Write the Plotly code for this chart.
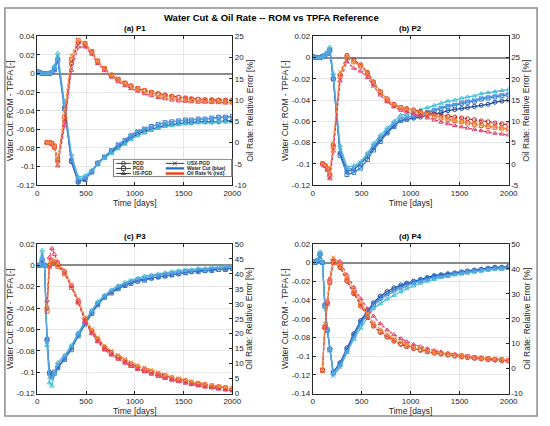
import plotly.graph_objects as go

# ---------------- data ----------------
METHODS = ["POD", "PGD", "US-PGD", "USX-PGD"]
PANEL_TITLES = ["(a) P1", "(b) P2", "(c) P3", "(d) P4"]

TIME_WC = [0, 25, 50, 75, 100, 125, 150, 175, 210, 280, 350, 420, 490, 560, 620, 690,
           760, 830, 900, 960, 1030, 1100, 1170, 1240, 1310, 1380, 1450, 1520, 1580,
           1650, 1720, 1790, 1860, 1930, 2000]
TIME_OIL = [100, 125, 150, 175, 210, 280, 350, 420, 490, 560, 620, 690, 760, 830, 900,
            960, 1030, 1100, 1170, 1240, 1310, 1380, 1450, 1520, 1580, 1650, 1720, 1790,
            1860, 1930, 2000]

# water cut error, P1
wc_p1_pod = [0.002, 0.001, 0.0, 0.0, 0.0, 0.0, 0.001, 0.005, 0.016, -0.036, -0.095, -0.117, -0.113, -0.105, -0.096, -0.090, -0.084, -0.079, -0.074, -0.069, -0.065, -0.062, -0.060, -0.058, -0.056, -0.055, -0.054, -0.053, -0.053, -0.052, -0.052, -0.052, -0.052, -0.051, -0.051]
wc_p1_pgd = [0.002, 0.001, 0.0, 0.0, 0.0, 0.0, 0.001, 0.004, 0.014, -0.038, -0.094, -0.116, -0.114, -0.106, -0.097, -0.090, -0.083, -0.077, -0.072, -0.067, -0.063, -0.060, -0.057, -0.055, -0.053, -0.052, -0.051, -0.050, -0.050, -0.049, -0.049, -0.048, -0.047, -0.047, -0.046]
wc_p1_us = [0.002, 0.001, 0.0, 0.0, 0.0, 0.0, 0.002, 0.008, 0.022, -0.030, -0.087, -0.111, -0.110, -0.104, -0.097, -0.091, -0.086, -0.081, -0.076, -0.071, -0.067, -0.064, -0.061, -0.059, -0.057, -0.056, -0.055, -0.054, -0.054, -0.053, -0.053, -0.053, -0.052, -0.052, -0.052]
wc_p1_usx = [0.002, 0.001, 0.0, 0.0, 0.0, 0.0, 0.001, 0.006, 0.018, -0.034, -0.090, -0.114, -0.112, -0.105, -0.096, -0.089, -0.082, -0.076, -0.071, -0.066, -0.062, -0.059, -0.057, -0.055, -0.053, -0.052, -0.051, -0.050, -0.050, -0.049, -0.049, -0.048, -0.048, -0.047, -0.047]
# oil rate error, P1
oil_p1_pod = [0.0, 0.0, -0.3, -1.0, -4.5, 5.0, 18.5, 23.5, 23.0, 21.2, 19.0, 17.3, 15.8, 14.8, 13.9, 13.3, 12.7, 12.2, 11.8, 11.5, 11.2, 10.9, 10.7, 10.5, 10.3, 10.2, 10.1, 10.1, 10.0, 10.0, 10.0]
oil_p1_pgd = [0.0, 0.0, -0.2, -0.8, -4.0, 6.0, 19.5, 24.0, 23.3, 21.4, 19.2, 17.4, 15.9, 14.9, 14.0, 13.3, 12.7, 12.2, 11.8, 11.4, 11.1, 10.8, 10.6, 10.4, 10.2, 10.1, 10.0, 9.9, 9.9, 9.8, 9.8]
oil_p1_us = [0.0, -0.1, -0.5, -1.3, -5.5, 4.0, 17.0, 22.5, 22.5, 20.8, 18.6, 16.9, 15.4, 14.3, 13.4, 12.7, 12.1, 11.5, 11.0, 10.6, 10.3, 10.0, 9.8, 9.7, 9.6, 9.5, 9.5, 9.4, 9.4, 9.3, 9.3]
oil_p1_usx = [0.0, 0.0, -0.3, -1.0, -5.0, 7.5, 20.5, 24.3, 23.2, 21.2, 19.0, 17.2, 15.7, 14.6, 13.7, 13.0, 12.4, 11.8, 11.3, 10.9, 10.6, 10.3, 10.1, 9.9, 9.8, 9.7, 9.6, 9.6, 9.5, 9.5, 9.4]

# P2
wc_p2_pod = [0.001, 0.0, 0.0, 0.0, 0.001, 0.002, 0.004, 0.007, -0.020, -0.090, -0.107, -0.105, -0.100, -0.093, -0.085, -0.077, -0.070, -0.064, -0.059, -0.058, -0.057, -0.056, -0.054, -0.053, -0.052, -0.050, -0.049, -0.048, -0.047, -0.046, -0.045, -0.044, -0.042, -0.041, -0.040]
wc_p2_pgd = [0.001, 0.0, 0.0, 0.0, 0.001, 0.002, 0.004, 0.007, -0.020, -0.092, -0.110, -0.108, -0.104, -0.096, -0.087, -0.079, -0.071, -0.065, -0.059, -0.058, -0.056, -0.054, -0.052, -0.050, -0.048, -0.046, -0.045, -0.043, -0.042, -0.041, -0.039, -0.038, -0.037, -0.036, -0.035]
wc_p2_us = [0.001, 0.0, 0.0, 0.0, 0.001, 0.003, 0.005, 0.010, -0.015, -0.083, -0.103, -0.102, -0.098, -0.090, -0.081, -0.073, -0.066, -0.060, -0.054, -0.054, -0.051, -0.049, -0.047, -0.045, -0.043, -0.041, -0.040, -0.038, -0.037, -0.036, -0.034, -0.033, -0.032, -0.031, -0.030]
wc_p2_usx = [0.001, 0.0, 0.0, 0.0, 0.001, 0.002, 0.004, 0.008, -0.018, -0.087, -0.105, -0.104, -0.099, -0.091, -0.083, -0.075, -0.068, -0.062, -0.057, -0.056, -0.055, -0.053, -0.051, -0.049, -0.047, -0.045, -0.044, -0.042, -0.041, -0.040, -0.038, -0.037, -0.036, -0.035, -0.034]
oil_p2_pod = [0.0, -0.3, -1.0, -2.5, 4.5, 21.0, 25.5, 24.5, 23.3, 21.5, 19.3, 17.0, 15.3, 14.0, 13.2, 13.0, 12.7, 12.3, 12.0, 11.7, 11.4, 11.2, 11.0, 10.8, 10.6, 10.4, 10.1, 9.9, 9.6, 9.4, 9.2]
oil_p2_pgd = [0.0, -0.4, -1.2, -2.8, 4.0, 20.5, 25.0, 24.0, 23.0, 21.2, 19.0, 16.8, 15.0, 13.8, 13.2, 12.8, 12.4, 12.0, 11.6, 11.2, 10.8, 10.5, 10.2, 9.9, 9.6, 9.3, 9.0, 8.8, 8.6, 8.4, 8.2]
oil_p2_us = [0.0, -0.5, -1.5, -3.5, 3.0, 19.5, 24.0, 22.5, 21.8, 20.3, 18.3, 16.2, 14.6, 13.4, 12.6, 12.2, 11.8, 11.3, 10.8, 10.3, 9.8, 9.4, 9.0, 8.7, 8.4, 8.1, 7.8, 7.5, 7.2, 7.0, 6.8]
oil_p2_usx = [0.0, -0.3, -1.0, -2.5, 5.0, 21.5, 25.5, 24.0, 23.0, 21.3, 19.2, 17.0, 15.2, 13.9, 13.2, 12.9, 12.5, 12.1, 11.7, 11.3, 10.9, 10.6, 10.3, 10.0, 9.7, 9.4, 9.1, 8.9, 8.6, 8.4, 8.0]

# P3
wc_p3_pod = [0.0, 0.0, 0.005, 0.0, -0.069, -0.100, -0.103, -0.100, -0.095, -0.087, -0.077, -0.065, -0.054, -0.044, -0.036, -0.029, -0.025, -0.021, -0.018, -0.016, -0.014, -0.013, -0.012, -0.011, -0.010, -0.009, -0.008, -0.007, -0.006, -0.005, -0.005, -0.004, -0.004, -0.003, -0.003]
wc_p3_pgd = [0.0, 0.0, 0.005, 0.0, -0.070, -0.101, -0.104, -0.101, -0.096, -0.088, -0.079, -0.066, -0.055, -0.045, -0.037, -0.030, -0.026, -0.022, -0.019, -0.017, -0.015, -0.014, -0.012, -0.011, -0.010, -0.009, -0.008, -0.007, -0.006, -0.006, -0.005, -0.005, -0.004, -0.004, -0.003]
wc_p3_us = [0.0, 0.001, 0.014, 0.0, -0.075, -0.110, -0.113, -0.100, -0.091, -0.084, -0.075, -0.063, -0.052, -0.042, -0.034, -0.028, -0.023, -0.019, -0.016, -0.014, -0.012, -0.010, -0.009, -0.008, -0.007, -0.006, -0.005, -0.004, -0.004, -0.003, -0.003, -0.002, -0.002, -0.001, -0.001]
wc_p3_usx = [0.0, 0.0, 0.010, 0.0, -0.072, -0.104, -0.106, -0.099, -0.093, -0.086, -0.076, -0.064, -0.053, -0.043, -0.035, -0.029, -0.024, -0.020, -0.017, -0.015, -0.013, -0.012, -0.010, -0.009, -0.008, -0.007, -0.006, -0.005, -0.005, -0.004, -0.004, -0.003, -0.003, -0.002, -0.002]
oil_p3_pod = [28.5, 43.0, 44.5, 44.0, 43.0, 40.5, 36.0, 31.0, 25.0, 21.0, 18.3, 15.5, 13.8, 12.4, 11.1, 10.0, 9.0, 8.2, 7.4, 6.7, 6.0, 5.3, 4.8, 4.3, 3.8, 3.4, 3.0, 2.6, 2.3, 2.0, 1.7]
oil_p3_pgd = [27.5, 42.5, 44.0, 43.5, 42.5, 40.0, 35.5, 30.5, 24.5, 20.5, 17.8, 15.0, 13.3, 11.9, 10.6, 9.5, 8.5, 7.7, 6.9, 6.2, 5.5, 4.9, 4.4, 3.9, 3.4, 3.0, 2.6, 2.3, 2.0, 1.7, 1.4]
oil_p3_us = [31.0, 45.5, 48.5, 46.5, 44.0, 41.0, 36.0, 30.5, 24.0, 20.0, 17.3, 14.6, 12.9, 11.5, 10.2, 9.1, 8.1, 7.3, 6.5, 5.8, 5.1, 4.5, 4.0, 3.5, 3.0, 2.6, 2.2, 1.9, 1.5, 1.2, 0.9]
oil_p3_usx = [29.0, 43.5, 45.0, 44.5, 43.5, 41.0, 36.5, 31.5, 25.5, 21.5, 18.8, 16.0, 14.3, 12.9, 11.6, 10.5, 9.5, 8.7, 7.9, 7.1, 6.4, 5.7, 5.1, 4.6, 4.1, 3.7, 3.3, 2.9, 2.5, 2.2, 1.9]

# P4
wc_p4_pod = [0.001, 0.0, 0.002, 0.008, 0.0, -0.045, -0.073, -0.092, -0.117, -0.107, -0.091, -0.076, -0.062, -0.051, -0.043, -0.036, -0.031, -0.027, -0.024, -0.022, -0.020, -0.018, -0.016, -0.014, -0.013, -0.012, -0.011, -0.010, -0.009, -0.008, -0.007, -0.006, -0.005, -0.005, -0.004]
wc_p4_pgd = [0.001, 0.0, 0.002, 0.009, 0.0, -0.046, -0.072, -0.093, -0.118, -0.108, -0.093, -0.078, -0.064, -0.053, -0.045, -0.038, -0.033, -0.029, -0.026, -0.023, -0.021, -0.019, -0.017, -0.015, -0.014, -0.013, -0.012, -0.011, -0.010, -0.009, -0.008, -0.007, -0.006, -0.006, -0.005]
wc_p4_us = [0.001, 0.0, 0.003, 0.012, 0.001, -0.048, -0.070, -0.092, -0.119, -0.110, -0.096, -0.082, -0.070, -0.058, -0.049, -0.044, -0.039, -0.035, -0.031, -0.028, -0.025, -0.022, -0.020, -0.018, -0.016, -0.015, -0.013, -0.012, -0.011, -0.010, -0.009, -0.008, -0.007, -0.007, -0.006]
wc_p4_usx = [0.001, 0.0, 0.002, 0.010, 0.0, -0.046, -0.071, -0.094, -0.121, -0.112, -0.095, -0.080, -0.066, -0.055, -0.046, -0.040, -0.035, -0.031, -0.028, -0.025, -0.022, -0.020, -0.018, -0.016, -0.015, -0.014, -0.012, -0.011, -0.010, -0.009, -0.008, -0.007, -0.006, -0.006, -0.005]
oil_p4_pod = [-0.5, 17.0, 26.5, 35.0, 43.0, 40.5, 35.0, 30.0, 25.0, 20.5, 17.0, 14.5, 12.6, 11.0, 9.7, 8.8, 8.0, 7.3, 6.7, 6.2, 5.8, 5.4, 5.0, 4.7, 4.4, 4.1, 3.9, 3.6, 3.4, 3.2, 3.0]
oil_p4_pgd = [-0.8, 16.5, 26.0, 34.5, 42.5, 41.0, 35.5, 30.5, 25.5, 21.0, 17.5, 15.0, 13.0, 11.4, 10.1, 9.1, 8.3, 7.6, 7.0, 6.5, 6.1, 5.7, 5.3, 5.0, 4.7, 4.4, 4.2, 3.9, 3.7, 3.5, 3.3]
oil_p4_us = [0.0, 16.5, 27.0, 36.0, 44.0, 43.0, 37.5, 32.5, 28.0, 24.0, 21.0, 18.0, 15.5, 13.6, 12.0, 10.8, 9.7, 8.8, 8.0, 7.3, 6.7, 6.2, 5.8, 5.4, 5.0, 4.7, 4.4, 4.1, 3.8, 3.6, 3.4]
oil_p4_usx = [0.0, 18.0, 27.5, 36.0, 44.5, 42.0, 36.5, 31.5, 26.5, 22.0, 18.5, 15.8, 13.8, 12.0, 10.6, 9.6, 8.7, 8.0, 7.3, 6.8, 6.3, 5.9, 5.5, 5.2, 4.9, 4.6, 4.3, 4.1, 3.9, 3.7, 3.5]

# axis ticks
TIME_TICKS = [0, 500, 1000, 1500, 2000]
WC_TICKS = [
    [-0.12, -0.1, -0.08, -0.06, -0.04, -0.02, 0, 0.02, 0.04],
    [-0.12, -0.1, -0.08, -0.06, -0.04, -0.02, 0, 0.02],
    [-0.12, -0.1, -0.08, -0.06, -0.04, -0.02, 0, 0.02],
    [-0.14, -0.12, -0.1, -0.08, -0.06, -0.04, -0.02, 0, 0.02],
]
OIL_TICKS = [
    [-10, -5, 0, 5, 10, 15, 20, 25],
    [-5, 0, 5, 10, 15, 20, 25, 30],
    [0, 5, 10, 15, 20, 25, 30, 35, 40, 45, 50],
    [-10, 0, 10, 20, 30, 40, 50],
]

WC_DATA = [
    [wc_p1_pod, wc_p1_pgd, wc_p1_us, wc_p1_usx],
    [wc_p2_pod, wc_p2_pgd, wc_p2_us, wc_p2_usx],
    [wc_p3_pod, wc_p3_pgd, wc_p3_us, wc_p3_usx],
    [wc_p4_pod, wc_p4_pgd, wc_p4_us, wc_p4_usx],
]
OIL_DATA = [
    [oil_p1_pod, oil_p1_pgd, oil_p1_us, oil_p1_usx],
    [oil_p2_pod, oil_p2_pgd, oil_p2_us, oil_p2_usx],
    [oil_p3_pod, oil_p3_pgd, oil_p3_us, oil_p3_usx],
    [oil_p4_pod, oil_p4_pgd, oil_p4_us, oil_p4_usx],
]

# ---------------- style ----------------
W, H = 550, 426
FONT = "Liberation Sans, Arial, sans-serif"
AX = "#262626"
GRID = "#e6e6e6"
BLUES = ["#1c4b9c", "#2f78cf", "#46bfd6", "#5b9fe2"]
REDS = ["#c62828", "#ee5a2a", "#e23c66", "#f3913a"]
SYMBOLS = ["circle-open", "square-open", "triangle-up-open", "x-thin-open"]

# plot boxes in pixels (left, right) / (top, bottom)
COLS_PX = [(36, 235), (317, 517)]
ROWS_PX = [(33, 185), (245, 398)]


def ax_id(prefix, n):
    return prefix if n == 1 else f"{prefix}{n}"


def fmt(v):
    return f"{v:g}"


def px_x(x):
    return x / W


def px_y(y):
    return 1 - y / H


fig = go.Figure()
layout = {}
annotations = []

for k in range(4):
    col = COLS_PX[k % 2]
    row = ROWS_PX[k // 2]
    xn, yl, yr = k + 1, 2 * k + 1, 2 * k + 2
    xd = [px_x(col[0]), px_x(col[1])]
    yd = [px_y(row[1]), px_y(row[0])]

    tick_common = dict(ticks="inside", ticklen=3, tickwidth=0.8, tickcolor=AX,
                       tickfont=dict(size=8, color=AX, family=FONT),
                       showline=True, linecolor=AX, linewidth=0.8)

    layout[ax_id("xaxis", xn)] = dict(
        domain=xd, anchor=ax_id("y", yl), range=[TIME_TICKS[0], TIME_TICKS[-1]],
        tickvals=TIME_TICKS, ticktext=[fmt(v) for v in TIME_TICKS],
        showgrid=True, gridcolor=GRID, gridwidth=0.7, zeroline=False, mirror="ticks",
        title=dict(text="Time [days]", font=dict(size=8.5, color=AX, family=FONT), standoff=1),
        **tick_common)
    wt = WC_TICKS[k]
    layout[ax_id("yaxis", yl)] = dict(
        domain=yd, anchor=ax_id("x", xn), range=[wt[0], wt[-1]],
        tickvals=wt, ticktext=[fmt(v) for v in wt],
        showgrid=True, gridcolor=GRID, gridwidth=0.7,
        zeroline=True, zerolinecolor="#8a8a8a", zerolinewidth=1.5,
        title=dict(text="Water Cut: ROM - TPFA [-]", font=dict(size=8.5, color=AX, family=FONT), standoff=1),
        **tick_common)
    ot = OIL_TICKS[k]
    layout[ax_id("yaxis", yr)] = dict(
        overlaying=ax_id("y", yl), anchor=ax_id("x", xn), side="right",
        range=[ot[0], ot[-1]], tickvals=ot, ticktext=[fmt(v) for v in ot],
        showgrid=False, zeroline=False,
        title=dict(text="Oil Rate: Relative Error [%]", font=dict(size=8.5, color=AX, family=FONT), standoff=1),
        **tick_common)

    # water cut (blue, solid)
    for m in range(4):
        fig.add_trace(go.Scatter(
            x=TIME_WC, y=WC_DATA[k][m], xaxis=ax_id("x", xn), yaxis=ax_id("y", yl),
            mode="lines+markers", showlegend=False, name=METHODS[m],
            line=dict(color=BLUES[m], width=1.2),
            marker=dict(symbol=SYMBOLS[m], size=4, color=BLUES[m], line=dict(width=1, color=BLUES[m]))))
    # oil rate (red, dashed)
    for m in range(4):
        fig.add_trace(go.Scatter(
            x=TIME_OIL, y=OIL_DATA[k][m], xaxis=ax_id("x", xn), yaxis=ax_id("y", yr),
            mode="lines+markers", showlegend=False, name=METHODS[m],
            line=dict(color=REDS[m], width=1.2, dash="3px,2px"),
            marker=dict(symbol=SYMBOLS[m], size=4, color=REDS[m], line=dict(width=1, color=REDS[m]))))

    annotations.append(dict(
        text=f"<b>{PANEL_TITLES[k]}</b>", x=(xd[0] + xd[1]) / 2, y=px_y(row[0] - 1),
        xref="paper", yref="paper", xanchor="center", yanchor="bottom", showarrow=False,
        font=dict(size=8, color="black", family=FONT)))

# ---------------- legend (drawn in a small helper axis inside panel a) ----------------
LEG_W, LEG_H = 122, 19
layout["xaxis5"] = dict(domain=[px_x(113), px_x(235)], anchor="y9", range=[-0.6, LEG_W + 0.6],
                        visible=False, fixedrange=True)
layout["yaxis9"] = dict(domain=[px_y(177), px_y(158)], anchor="x5", range=[-0.6, LEG_H + 0.6],
                        visible=False, fixedrange=True)

fig.add_trace(go.Scatter(
    x=[0, LEG_W, LEG_W, 0, 0], y=[0, 0, LEG_H, LEG_H, 0], xaxis="x5", yaxis="y9",
    mode="lines", fill="toself", fillcolor="white", line=dict(color=AX, width=0.7),
    showlegend=False, hoverinfo="skip"))

LEG_ROWS = [14.5, 9.0, 3.5]
LEG_COLS = [(3, 18, 20), (54, 73, 76)]
legend_entries = [
    (0, 0, "POD", "#3a3a3a", 1.0, SYMBOLS[0]),
    (0, 1, "PGD", "#3a3a3a", 1.0, SYMBOLS[1]),
    (0, 2, "US-PGD", "#3a3a3a", 1.0, SYMBOLS[2]),
    (1, 0, "USX-PGD", "#3a3a3a", 1.0, SYMBOLS[3]),
    (1, 1, "Water Cut (blue)", "#1f6fc8", 2.4, None),
    (1, 2, "Oil Rate % (red)", "#e8461c", 2.4, None),
]
for c, r, label, color, width, sym in legend_entries:
    x0, x1, xt = LEG_COLS[c]
    yy = LEG_ROWS[r]
    fig.add_trace(go.Scatter(
        x=[x0, x1], y=[yy, yy], xaxis="x5", yaxis="y9", mode="lines",
        line=dict(color=color, width=width), showlegend=False, hoverinfo="skip"))
    if sym:
        fig.add_trace(go.Scatter(
            x=[(x0 + x1) / 2], y=[yy], xaxis="x5", yaxis="y9", mode="markers",
            marker=dict(symbol=sym, size=4, color=color, line=dict(width=0.9, color=color)),
            showlegend=False, hoverinfo="skip"))
    fig.add_trace(go.Scatter(
        x=[xt], y=[yy], xaxis="x5", yaxis="y9", mode="text", text=[f"<b>{label}</b>"],
        textposition="middle right", textfont=dict(size=5, color=AX, family=FONT),
        showlegend=False, hoverinfo="skip"))

annotations.append(dict(
    text="<b>Water Cut & Oil Rate -- ROM vs TPFA Reference</b>", x=0.5, y=px_y(14),
    xref="paper", yref="paper", xanchor="center", yanchor="middle", showarrow=False,
    font=dict(size=9.5, color="black", family=FONT)))

fig.update_layout(
    width=W, height=H, margin=dict(l=0, r=0, t=0, b=0),
    paper_bgcolor="white", plot_bgcolor="white",
    font=dict(family=FONT, color=AX),
    showlegend=False, annotations=annotations,
    shapes=[dict(type="rect", xref="paper", yref="paper",
                 x0=px_x(3), x1=px_x(546), y0=px_y(421), y1=px_y(4),
                 line=dict(color="#8c8c8c", width=1.5), fillcolor="rgba(0,0,0,0)")],
    **layout)

# the page body has a default margin; drop it so the figure fills the window
fig.write_html("out.html", config={"displayModeBar": False},
               post_script="document.body.style.margin='0';document.body.style.overflow='hidden';")
